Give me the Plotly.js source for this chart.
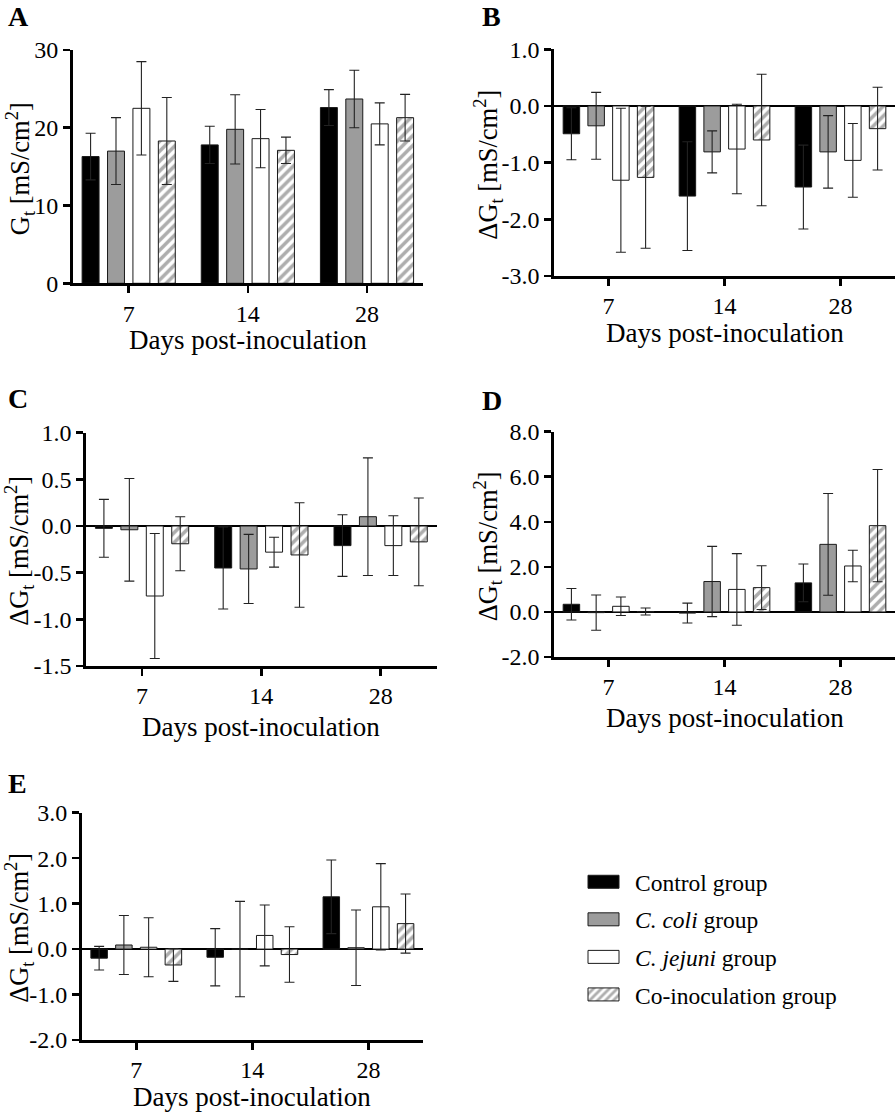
<!DOCTYPE html>
<html>
<head>
<meta charset="utf-8">
<script src="https://cdn.plot.ly/plotly-3.0.1.min.js"></script>
<style>
html,body{margin:0;padding:0;background:#fff;}
#chart{width:896px;height:1113px;}
</style>
</head>
<body>
<div id="chart"></div>
<script>
// ---------- data ----------
const days = ['7', '14', '28'];
const groupNames = ['Control group', '<i>C. coli</i> group', '<i>C. jejuni</i> group', 'Co-inoculation group'];

// Panel A: Gt
const A_control = [16.3, 17.8, 22.6];
const A_coli    = [17.0, 19.8, 23.7];
const A_jejuni  = [22.5, 18.6, 20.5];
const A_coinoc  = [18.3, 17.1, 21.3];
const A_control_err = [3.0, 2.4, 2.3];
const A_coli_err    = [4.3, 4.45, 3.7];
const A_jejuni_err  = [6.0, 3.75, 2.7];
const A_coinoc_err  = [5.6, 1.7, 3.0];

// Panel B
const B_control = [-0.49, -1.59, -1.43];
const B_coli    = [-0.35, -0.81, -0.81];
const B_jejuni  = [-1.31, -0.76, -0.96];
const B_coinoc  = [-1.26, -0.60, -0.40];
const B_control_err = [0.46, 0.96, 0.74];
const B_coli_err    = [0.59, 0.37, 0.64];
const B_jejuni_err  = [1.27, 0.79, 0.65];
const B_coinoc_err  = [1.25, 1.16, 0.73];

// Panel C
const C_control = [-0.025, -0.45, -0.21];
const C_coli    = [-0.04, -0.46, 0.10];
const C_jejuni  = [-0.75, -0.28, -0.21];
const C_coinoc  = [-0.19, -0.31, -0.17];
const C_control_err = [0.31, 0.44, 0.33];
const C_coli_err    = [0.55, 0.37, 0.63];
const C_jejuni_err  = [0.67, 0.16, 0.32];
const C_coinoc_err  = [0.29, 0.56, 0.47];

// Panel D
const D_control = [0.34, -0.05, 1.29];
const D_coli    = [-0.03, 1.35, 3.00];
const D_jejuni  = [0.25, 1.00, 2.04];
const D_coinoc  = [0.02, 1.08, 3.83];
const D_control_err = [0.70, 0.44, 0.84];
const D_coli_err    = [0.78, 1.56, 2.26];
const D_jejuni_err  = [0.41, 1.59, 0.70];
const D_coinoc_err  = [0.155, 0.97, 2.49];

// Panel E
const E_control = [-0.20, -0.18, 1.15];
const E_coli    = [0.09, 0.00, 0.03];
const E_jejuni  = [0.04, 0.30, 0.93];
const E_coinoc  = [-0.35, -0.12, 0.56];
const E_control_err = [0.26, 0.63, 0.81];
const E_coli_err    = [0.65, 1.05, 0.83];
const E_jejuni_err  = [0.65, 0.67, 0.95];
const E_coinoc_err  = [0.36, 0.61, 0.65];

// tick labels
const A_tickvals = [0, 10, 20, 30];
const A_ticktext = ['0', '10', '20', '30'];
const B_tickvals = [-3, -2, -1, 0, 1];
const B_ticktext = ['-3.0', '-2.0', '-1.0', '0.0', '1.0'];
const C_tickvals = [-1.5, -1, -0.5, 0, 0.5, 1];
const C_ticktext = ['-1.5', '-1.0', '-0.5', '0.0', '0.5', '1.0'];
const D_tickvals = [-2, 0, 2, 4, 6, 8];
const D_ticktext = ['-2.0', '0.0', '2.0', '4.0', '6.0', '8.0'];
const E_tickvals = [-2, -1, 0, 1, 2, 3];
const E_ticktext = ['-2.0', '-1.0', '0.0', '1.0', '2.0', '3.0'];

const xTitle = 'Days post-inoculation';
const yTitleA = 'G<sub>t</sub> [mS/cm<sup>2</sup>]';
const yTitleD = '\u0394G<sub>t</sub> [mS/cm<sup>2</sup>]';

// ---------- styling ----------
const W = 896, H = 1113;
const FONT = '"Liberation Serif", "Times New Roman", serif';
const fx = p => p / W;
const fy = p => 1 - p / H;

const styles = [
  {color: '#000000'},
  {color: '#9c9c9c'},
  {color: '#ffffff'},
  {color: '#ffffff', pattern: {shape: '/', fgcolor: '#adadad', bgcolor: '#ffffff', size: 7, solidity: 0.5, fillmode: 'replace'}}
];

const panels = [
  {key: '',  series: [A_control, A_coli, A_jejuni, A_coinoc], errs: [A_control_err, A_coli_err, A_jejuni_err, A_coinoc_err],
   range: [0, 30], tv: A_tickvals, tt: A_ticktext, xd: [72.7, 423], yd: [50, 283.3], zero: false,
   ytitle: yTitleA, ytx: 19.5, letter: 'A', lx: 18, ly: 16, xty: 340},
  {key: '2', series: [B_control, B_coli, B_jejuni, B_coinoc], errs: [B_control_err, B_coli_err, B_jejuni_err, B_coinoc_err],
   range: [-3, 1], tv: B_tickvals, tt: B_ticktext, xd: [554, 895], yd: [49.3, 276], zero: true,
   ytitle: yTitleD, ytx: 488, letter: 'B', lx: 491, ly: 16, xty: 333},
  {key: '3', series: [C_control, C_coli, C_jejuni, C_coinoc], errs: [C_control_err, C_coli_err, C_jejuni_err, C_coinoc_err],
   range: [-1.5, 1], tv: C_tickvals, tt: C_ticktext, xd: [86, 436.7], yd: [432.7, 666], zero: true,
   ytitle: yTitleD, ytx: 19.5, letter: 'C', lx: 18, ly: 399, xty: 727},
  {key: '4', series: [D_control, D_coli, D_jejuni, D_coinoc], errs: [D_control_err, D_coli_err, D_jejuni_err, D_coinoc_err],
   range: [-2, 8], tv: D_tickvals, tt: D_ticktext, xd: [554, 895], yd: [431.7, 657], zero: true,
   ytitle: yTitleD, ytx: 488, letter: 'D', lx: 492, ly: 400, xty: 718},
  {key: '5', series: [E_control, E_coli, E_jejuni, E_coinoc], errs: [E_control_err, E_coli_err, E_jejuni_err, E_coinoc_err],
   range: [-2, 3], tv: E_tickvals, tt: E_ticktext, xd: [81.7, 423], yd: [812.7, 1040], zero: true,
   ytitle: yTitleD, ytx: 19.5, letter: 'E', lx: 17, ly: 783, xty: 1097}
];

const traces = [];
const layout = {
  width: W, height: H,
  margin: {l: 0, r: 0, t: 0, b: 0},
  paper_bgcolor: '#ffffff', plot_bgcolor: '#ffffff',
  font: {family: FONT, color: '#000', size: 24},
  barmode: 'group', bargap: 0.147, bargroupgap: 0.333,
  showlegend: true,
  legend: {
    x: fx(572), y: fy(860), xanchor: 'left', yanchor: 'top',
    font: {family: FONT, size: 23.5, color: '#000'},
    itemwidth: 53, traceorder: 'grouped', tracegroupgap: 4,
    bgcolor: 'rgba(0,0,0,0)', borderwidth: 0
  },
  annotations: [],
  shapes: []
};

panels.forEach((p, pi) => {
  p.series.forEach((vals, si) => {
    traces.push({
      type: 'bar',
      x: days, y: vals,
      name: groupNames[si],
      legendgroup: 'g' + si,
      showlegend: pi === 0,
      xaxis: 'x' + p.key, yaxis: 'y' + p.key,
      marker: Object.assign({line: {color: '#1a1a1a', width: 1}}, styles[si]),
      error_y: {type: 'data', array: p.errs[si], visible: true, color: '#222222', thickness: 1.1, width: 5},
      hoverinfo: 'skip'
    });
  });
  const axStyle = {
    showline: true, linecolor: '#000', linewidth: 2.6, mirror: false,
    ticks: 'outside', ticklen: 7, tickwidth: 2.6, tickcolor: '#000',
    showgrid: false, fixedrange: true,
    tickfont: {family: FONT, size: 24, color: '#000'}
  };
  layout['xaxis' + p.key] = Object.assign({}, axStyle, {
    type: 'category', range: [-0.47, 2.47],
    domain: [fx(p.xd[0]), fx(p.xd[1])],
    anchor: 'y' + p.key, zeroline: false
  });
  layout['yaxis' + p.key] = Object.assign({}, axStyle, {
    range: p.range, tickmode: 'array', tickvals: p.tv, ticktext: p.tt,
    domain: [fy(p.yd[1]), fy(p.yd[0])],
    anchor: 'x' + p.key,
    zeroline: p.zero, zerolinecolor: '#000', zerolinewidth: 2.6
  });
  // titles and panel letters
  layout.annotations.push({
    text: p.ytitle, textangle: -90, xref: 'paper', yref: 'paper',
    x: fx(p.ytx), y: fy((p.yd[0] + p.yd[1]) / 2 + 2), xanchor: 'center', yanchor: 'middle',
    showarrow: false, font: {family: FONT, size: 26.5, color: '#000'}
  });
  layout.annotations.push({
    text: xTitle, xref: 'paper', yref: 'paper',
    x: fx((p.xd[0] + p.xd[1]) / 2), y: fy(p.xty), xanchor: 'center', yanchor: 'middle',
    showarrow: false, font: {family: FONT, size: 27, color: '#000'}
  });
  layout.annotations.push({
    text: '<b>' + p.letter + '</b>', xref: 'paper', yref: 'paper',
    x: fx(p.lx), y: fy(p.ly), xanchor: 'center', yanchor: 'middle',
    showarrow: false, font: {family: FONT, size: 28, color: '#000'}
  });
});

Plotly.newPlot('chart', traces, layout, {staticPlot: true, displayModeBar: false}).then(() => {
  // widen legend swatches to match the reference's rectangular keys
  document.querySelectorAll('.legend .legendpoints path').forEach(el => {
    el.setAttribute('d', 'M15.5,6.5H-15.5V-6.5H15.5Z');
  });
});
</script>
</body>
</html>
